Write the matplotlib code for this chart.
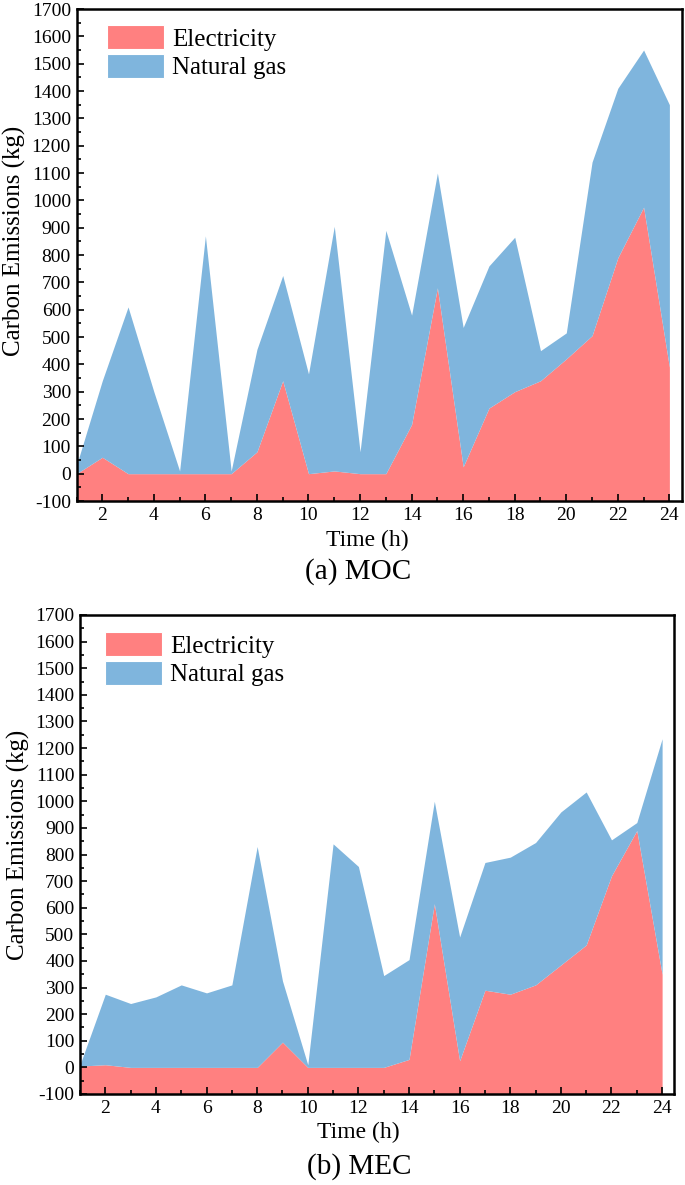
import numpy as np
import matplotlib
matplotlib.use('Agg')
import matplotlib.pyplot as plt
import matplotlib.ticker as ticker

plt.rcParams['font.family'] = ['Liberation Serif', 'DejaVu Serif']
plt.rcParams['axes.unicode_minus'] = False

hours = np.arange(1, 25)

# (a) MOC, kg per hour
moc_elec = [0, 60, 0, 0, 0, 0, 0, 80, 340, 0, 10, 0,
            0, 180, 680, 25, 240, 300, 340, 420, 505, 790, 975, 390]
moc_gas = [30, 280, 610, 300, 10, 870, 10, 375, 385, 365, 895, 80,
           890, 400, 420, 510, 520, 565, 110, 95, 635, 620, 575, 960]

# (b) MEC, kg per hour
mec_elec = [5, 10, 0, 0, 0, 0, 0, 0, 95, 0, 0, 0,
            0, 30, 615, 25, 290, 275, 310, 385, 460, 720, 890, 350]
mec_gas = [5, 265, 240, 265, 310, 280, 310, 830, 230, 10, 840, 755,
           345, 375, 385, 465, 480, 515, 535, 575, 575, 135, 30, 885]

red = '#FF8080'
blue = '#7FB5DD'
W, H = 685, 1185

fig = plt.figure(figsize=(6.85, 11.85), dpi=100)


def panel(rect, elec, gas, title, title_xy, xlab_x, ylab_y, leg_anchor):
    ax = fig.add_axes(rect)
    ymin = -100
    elec = np.array(elec, dtype=float)
    total = elec + np.array(gas, dtype=float)
    ax.fill_between(hours, ymin, elec, color=red, lw=0, label='Electricity')
    ax.fill_between(hours, elec, total, color=blue, lw=0, label='Natural gas')
    ax.set_xlim(1, 24.47)
    ax.set_ylim(-100, 1700)
    ax.xaxis.set_major_locator(ticker.MultipleLocator(2))
    ax.xaxis.set_minor_locator(ticker.MultipleLocator(1))
    ax.yaxis.set_major_locator(ticker.MultipleLocator(100))
    ax.yaxis.set_minor_locator(ticker.MultipleLocator(50))
    ax.tick_params(which='both', direction='in', top=False, right=False,
                   width=1.2, labelsize=14, pad=4)
    ax.tick_params(which='major', length=5)
    ax.tick_params(which='minor', length=3)
    for s in ax.spines.values():
        s.set_linewidth(1.8)
    ax.set_xlabel('Time (h)', fontsize=17)
    ax.xaxis.set_label_coords(xlab_x, -0.058)
    ax.xaxis.label.set_va('top')
    ax.set_ylabel('Carbon Emissions (kg)', fontsize=18)
    ax.yaxis.set_label_coords(-0.084, ylab_y)
    leg = ax.legend(loc='upper left', bbox_to_anchor=leg_anchor, frameon=False,
                    fontsize=18, handlelength=2.3, handleheight=1.1,
                    handletextpad=0.3, labelspacing=0.12, borderpad=0,
                    borderaxespad=0)
    for h in leg.legend_handles:
        h.set_edgecolor('white')
        h.set_linewidth(0.8)
    fig.text(title_xy[0], title_xy[1], title, fontsize=21, ha='center', va='center')
    return ax


panel([76.5 / W, 1 - 501 / H, 605 / W, 492 / H], moc_elec, moc_gas,
      '(a) MOC', (358 / W, 1 - 572 / H), 0.48, 0.528, (0.05, 0.967))
panel([80 / W, 1 - 1094 / H, 594 / W, 479 / H], mec_elec, mec_gas,
      '(b) MEC', (359 / W, 1 - 1167 / H), 0.468, 0.52, (0.042, 0.964))

fig.savefig('out.png', dpi=100)
